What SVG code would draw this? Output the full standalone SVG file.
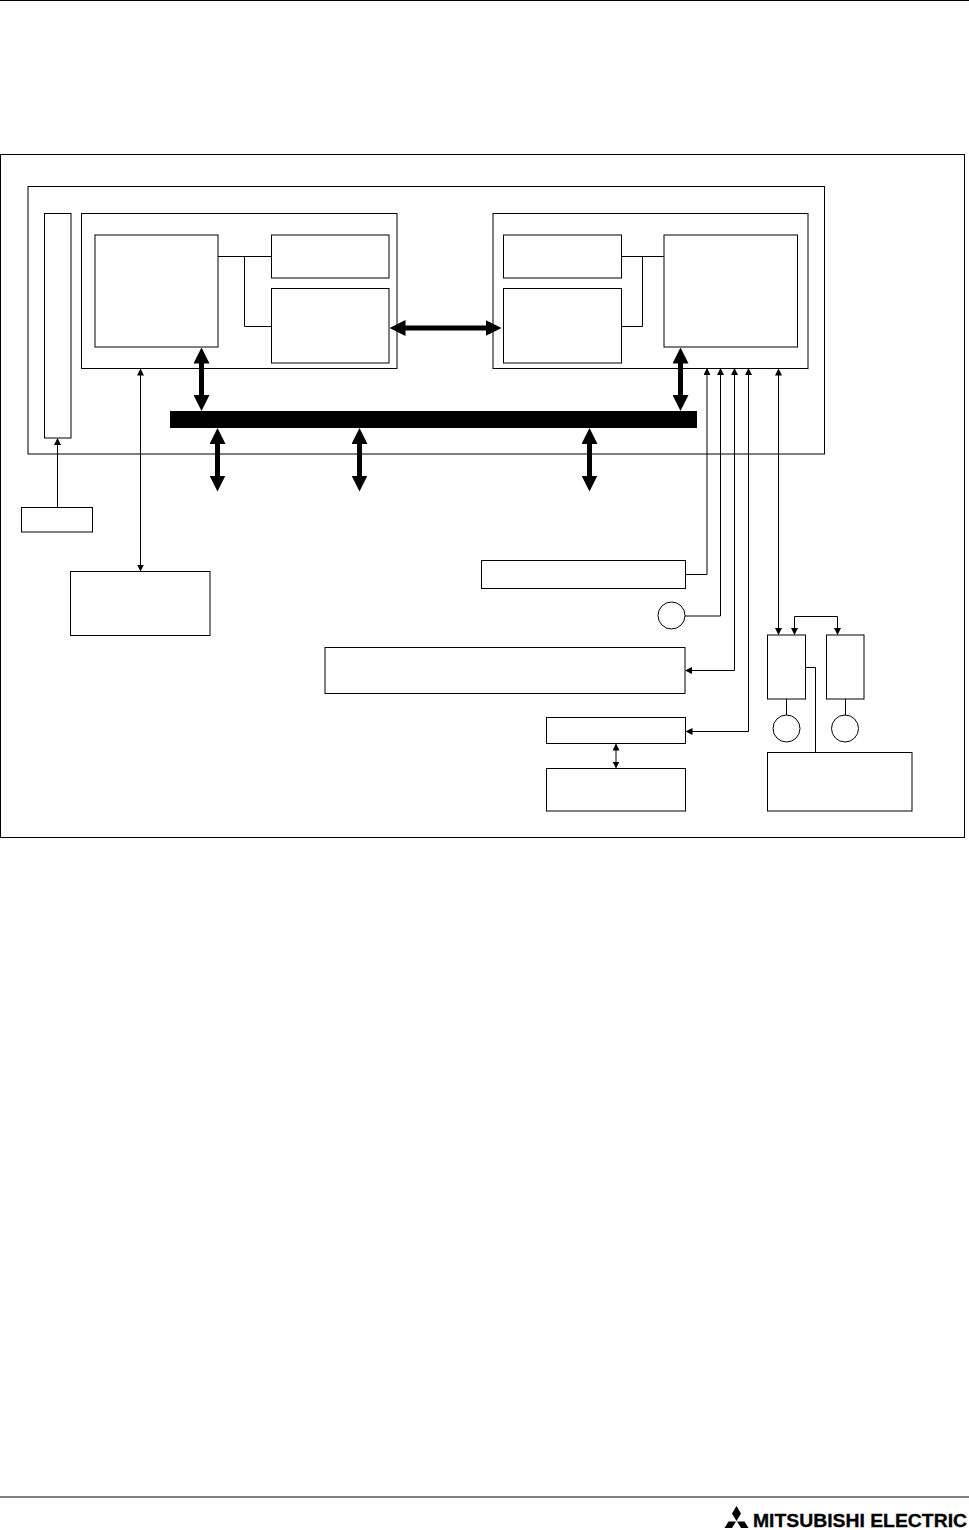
<svg xmlns="http://www.w3.org/2000/svg" width="969" height="1530" viewBox="0 0 969 1530">
<defs>
<style>
.b{fill:#fff;stroke:#000;stroke-width:1}
.c{fill:none;stroke:#000;stroke-width:1}
.t{fill:none;stroke:#000;stroke-width:5}
</style>
<marker id="a" viewBox="0 0 7 7" refX="6" refY="3.5" markerWidth="7" markerHeight="7" markerUnits="userSpaceOnUse" orient="auto-start-reverse"><path d="M0 0L7 3.5L0 7Z"/></marker>
<marker id="A" viewBox="0 0 16 16" refX="5" refY="8" markerWidth="16" markerHeight="16" markerUnits="userSpaceOnUse" orient="auto-start-reverse"><path d="M0 0L16 8L0 16Z"/></marker>
</defs>
<rect width="969" height="1530" fill="#fff"/>
<path id="top-rule" d="M0 0.5H969" class="c"/>
<rect id="frame" x="0.5" y="154.5" width="964" height="683" class="b"/>
<g id="chip"><rect x="28" y="186.5" width="796.5" height="267.5" class="b"/></g>
<g id="narrow"><rect x="44.5" y="213.5" width="26.5" height="224.5" class="b"/></g>
<g id="left-unit"><rect x="81.5" y="213.5" width="315.500" height="155" class="b"/></g>
<g id="left-core"><rect x="95" y="235" width="123" height="112" class="b"/></g>
<g id="left-top"><rect x="271.5" y="235" width="117.500" height="43" class="b"/></g>
<g id="left-low"><rect x="271.5" y="288.5" width="117.500" height="74.500" class="b"/></g>
<g id="right-unit"><rect x="493" y="213.5" width="315" height="155" class="b"/></g>
<g id="right-top"><rect x="503.5" y="235" width="118" height="43" class="b"/></g>
<g id="right-low"><rect x="503.5" y="288.5" width="118" height="74.500" class="b"/></g>
<g id="right-core"><rect x="664" y="235" width="133.500" height="112" class="b"/></g>
<g id="bus"><rect x="170" y="411" width="527" height="17" fill="#000"/></g>
<g id="clock-box"><rect x="21.5" y="507.5" width="71" height="24.500" class="b" stroke-width="1.500"/></g>
<g id="left-ext"><rect x="70.500" y="571.5" width="139.500" height="64" class="b"/></g>
<g id="box-a"><rect x="481.5" y="560.5" width="204" height="28" class="b"/></g>
<g id="circle-a"><circle cx="671.5" cy="615.5" r="13.500" class="b"/></g>
<g id="box-b"><rect x="325" y="647.5" width="360" height="46" class="b"/></g>
<g id="box-c"><rect x="546.5" y="717.5" width="139" height="26" class="b"/></g>
<g id="box-d"><rect x="546.5" y="768.5" width="139" height="42.500" class="b"/></g>
<g id="box-e"><rect x="767.5" y="635" width="38" height="64" class="b"/></g>
<g id="box-f"><rect x="826.5" y="635" width="37.500" height="64" class="b"/></g>
<g id="circle-e"><circle cx="786.5" cy="728.5" r="13.500" class="b"/></g>
<g id="circle-f"><circle cx="845" cy="728.5" r="13.500" class="b"/></g>
<g id="box-g"><rect x="767.5" y="752.5" width="144.500" height="58.500" class="b"/></g>
<g id="connectors">
<path class="c" d="M218 256.5H271.5M244.5 256.5V326.5H271.5"/>
<path class="c" d="M621.5 256.5H664M642.5 256.5V326.5H621.5"/>
<path class="t" d="M201.5 358.500V400" marker-start="url(#A)" marker-end="url(#A)"/>
<path class="t" d="M680.5 358.500V400" marker-start="url(#A)" marker-end="url(#A)"/>
<path class="t" d="M217.5 439V480.500" marker-start="url(#A)" marker-end="url(#A)"/>
<path class="t" d="M359.5 439V480.500" marker-start="url(#A)" marker-end="url(#A)"/>
<path class="t" d="M589.5 439V480.500" marker-start="url(#A)" marker-end="url(#A)"/>
<path class="t" d="M400.500 328H490.500" marker-start="url(#A)" marker-end="url(#A)"/>
<path class="c" d="M57.500 507.500V439" marker-end="url(#a)"/>
<path class="c" d="M140.500 369.500V570.500" marker-start="url(#a)" marker-end="url(#a)"/>
<path class="c" d="M685.500 574.500H707V369" marker-end="url(#a)"/>
<path class="c" d="M685 616H720.500V369" marker-end="url(#a)"/>
<path class="c" d="M734.500 369V670.500H686" marker-start="url(#a)" marker-end="url(#a)"/>
<path class="c" d="M748.500 369V731.500H686.500" marker-start="url(#a)" marker-end="url(#a)"/>
<path class="c" d="M778.500 369.500V634" marker-start="url(#a)" marker-end="url(#a)"/>
<path class="c" d="M794.500 634V616.500H837.500V634" marker-start="url(#a)" marker-end="url(#a)"/>
<path class="c" d="M616 744.500V767.500" marker-start="url(#a)" marker-end="url(#a)"/>
<path class="c" d="M786.500 699V715M845.500 699V715"/>
<path class="c" d="M805.500 667.500H815.500V752.500"/>
</g>
<path id="bottom-rule" d="M0 1497H969" class="c"/>
<g id="logo">
<path d="M736.500 1506L741 1513.500L736.500 1521L732 1513.500Z M736 1521.500L732 1528H724.500L728.500 1521.500Z M737 1521.500L741 1528H748.500L744.500 1521.500Z"/>
<text x="753" y="1527" font-family="Liberation Sans, Arial, sans-serif" font-weight="700" font-size="19" stroke="#000" stroke-width="0.3" textLength="214" lengthAdjust="spacingAndGlyphs">MITSUBISHI ELECTRIC</text>
</g>
</svg>
